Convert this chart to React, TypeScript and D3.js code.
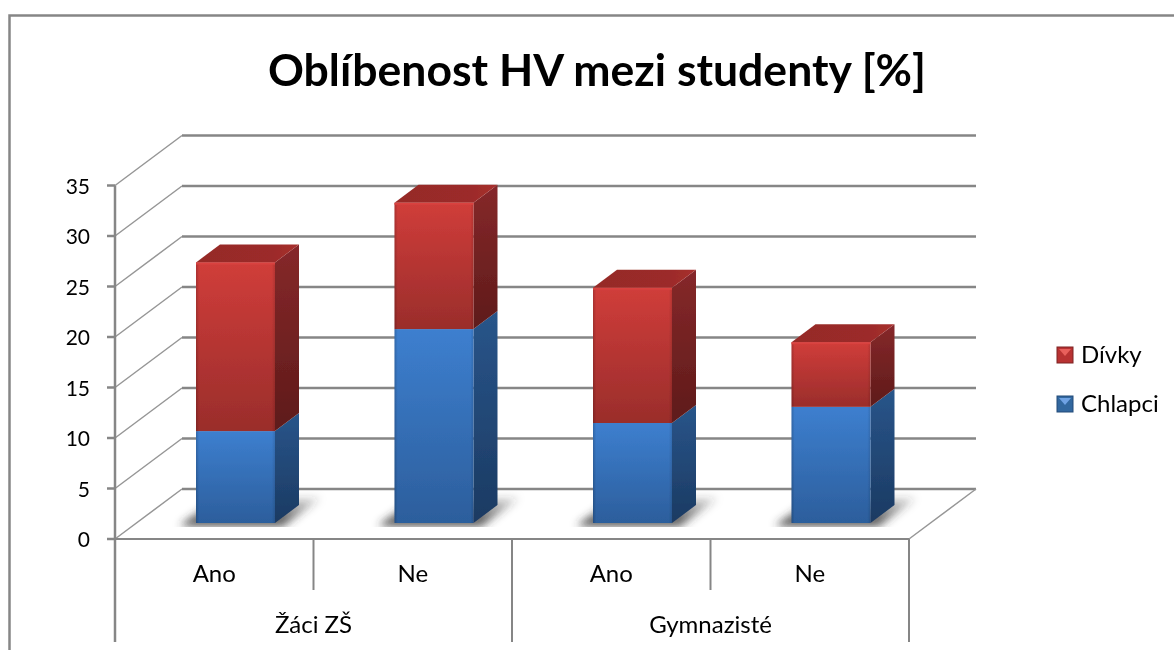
import React from "react";
import * as d3 from "d3";

const categories = ["Ano", "Ne", "Ano", "Ne"];
const groups = ["Žáci ZŠ", "Gymnazisté"];
const chlapci = [9.1, 19.2, 9.9, 11.5];
const divky = [16.7, 12.5, 13.4, 6.4];
const yTicks = [0, 5, 10, 15, 20, 25, 30, 35];
const legendItems = [
  { name: "Dívky", light: "#e8605c", main: "#b83330", dark: "#7d2624" },
  { name: "Chlapci", light: "#6fa3e4", main: "#33689f", dark: "#234a78" },
];

const W = 1174, H = 650;
const FONT = "Lato, 'Open Sans', sans-serif";
const AXIS = "#868686";
const wallDx = 67, wallDy = -50;
const barDx = 24, barDy = -18;

const x = d3.scaleBand<number>().domain(d3.range(4)).range([115, 909]);
const y = d3.scaleLinear().domain([0, 35]).range([539, 185.5]);
// Bars stand part way into the floor, so their own value scale starts higher up.
const yBar = d3.scaleLinear().domain([0, 35]).range([523, 169.5]);
const barW = 79;
const barOffset = 81;

function poly(p: [number, number][]) {
  return d3.line()(p)! + "Z";
}

function Segment({ x0, v0, v1, kind, isTop }: { x0: number; v0: number; v1: number; kind: string; isTop: boolean }) {
  const yb = yBar(v0), yt = yBar(v1), x1 = x0 + barW;
  return (
    <g>
      <path d={poly([[x1, yb], [x1 + barDx, yb + barDy], [x1 + barDx, yt + barDy], [x1, yt]])} fill={`url(#${kind}Side)`} />
      <rect x={x0} y={yt} width={barW} height={yb - yt} fill={`url(#${kind}Front)`} />
      <rect x={x0} y={yt} width={barW} height={yb - yt} fill="url(#edgeShade)" />
      {isTop && (
        <g>
          <path d={poly([[x0, yt], [x0 + barDx, yt + barDy], [x1 + barDx, yt + barDy], [x1, yt]])} fill="url(#redTop)" />
          <line x1={x0} x2={x1} y1={yt + 1} y2={yt + 1} stroke="#d9423f" strokeWidth={2} />
        </g>
      )}
    </g>
  );
}

export default function App() {
  const frontY0 = y(0), left = x.range()[0], right = x.range()[1];
  const stacked = chlapci.map((c, i) => ({ i, c, total: c + divky[i], x0: x(i)! + barOffset }));
  return (
    <svg width={W} height={H} viewBox={`0 0 ${W} ${H}`} style={{ position: "absolute", left: 0, top: 0, display: "block", background: "#fff" }}>
      <defs>
        <linearGradient id="blueFront" x1="0" y1="0" x2="0" y2="1">
          <stop offset="0" stopColor="#3d7fcf" /><stop offset="1" stopColor="#2c5e9c" />
        </linearGradient>
        <linearGradient id="redFront" x1="0" y1="0" x2="0" y2="1">
          <stop offset="0" stopColor="#d03d3a" /><stop offset="1" stopColor="#9a2d2b" />
        </linearGradient>
        <linearGradient id="blueSide" x1="0" y1="0" x2="0" y2="1">
          <stop offset="0" stopColor="#29558a" /><stop offset="1" stopColor="#1b3a62" />
        </linearGradient>
        <linearGradient id="redSide" x1="0" y1="0" x2="0" y2="1">
          <stop offset="0" stopColor="#86282a" /><stop offset="1" stopColor="#5e1b1a" />
        </linearGradient>
        <linearGradient id="redTop" x1="0" y1="0" x2="1" y2="0">
          <stop offset="0" stopColor="#952a28" /><stop offset="0.75" stopColor="#9c2b29" /><stop offset="1" stopColor="#a8302e" />
        </linearGradient>
        <linearGradient id="edgeShade" x1="0" y1="0" x2="1" y2="0">
          <stop offset="0" stopColor="#000" stopOpacity="0.18" /><stop offset="0.04" stopColor="#000" stopOpacity="0" />
          <stop offset="0.96" stopColor="#000" stopOpacity="0" /><stop offset="1" stopColor="#000" stopOpacity="0.12" />
        </linearGradient>
        <linearGradient id="shadowFade" gradientUnits="userSpaceOnUse" x1="0" y1="526" x2="0" y2="498">
          <stop offset="0" stopColor="#333" stopOpacity="0.95" /><stop offset="1" stopColor="#333" stopOpacity="0.15" />
        </linearGradient>
        <filter id="soft" x="-30%" y="-50%" width="160%" height="200%"><feGaussianBlur stdDeviation="4" /></filter>
        <filter id="slight" x="-5%" y="-5%" width="110%" height="110%"><feGaussianBlur stdDeviation="0.5" /></filter>
        <clipPath id="floorClip"><rect x={0} y={490} width={W} height={37} /></clipPath>
      </defs>

      <g filter="url(#slight)">
        <path d={`M9.5,${H}V15.5H${W}`} fill="none" stroke={AXIS} strokeWidth={2.5} />

        <text x={597} y={86} textAnchor="middle" fontFamily={FONT} fontWeight={700} fontSize={44.5} fill="#000">Oblíbenost HV mezi studenty [%]</text>

        {/* back wall and side wall grid */}
        {yTicks.map((t) => (
          <g key={t}>
            <line x1={left} y1={y(t)} x2={left + wallDx} y2={y(t) + wallDy} stroke="#969696" strokeWidth={1.5} />
            <line x1={left + wallDx} y1={y(t) + wallDy} x2={right + wallDx} y2={y(t) + wallDy} stroke={AXIS} strokeWidth={2.5} />
            <line x1={107} y1={y(t)} x2={left} y2={y(t)} stroke={AXIS} strokeWidth={2.5} />
            <text x={90} y={y(t) + 8} textAnchor="end" fontFamily={FONT} fontSize={21} fill="#000">{t}</text>
          </g>
        ))}
        {/* floor */}
        <line x1={right} y1={frontY0} x2={right + wallDx} y2={frontY0 + wallDy} stroke="#969696" strokeWidth={1.5} />
        <line x1={left} y1={frontY0} x2={right} y2={frontY0} stroke={AXIS} strokeWidth={2} />

        {/* shadows */}
        <g clipPath="url(#floorClip)">
          {stacked.map((b) => (
            <path key={b.i} filter="url(#soft)" fill="url(#shadowFade)"
              d={poly([[b.x0 - 16, 526], [b.x0 + barW + 8, 526], [b.x0 + barW + 46, 498], [b.x0 + 20, 498]])} />
          ))}
        </g>

        {/* bars */}
        {stacked.map((b) => (
          <g key={b.i}>
            <Segment x0={b.x0} v0={0} v1={b.c} kind="blue" isTop={false} />
            <Segment x0={b.x0} v0={b.c} v1={b.total} kind="red" isTop={true} />
          </g>
        ))}

        {/* axes */}
        <line x1={left} y1={y(35)} x2={left} y2={642} stroke={AXIS} strokeWidth={2.5} />
        {categories.map((c, i) => (
          <g key={i}>
            <line x1={x(i)! + x.bandwidth()} x2={x(i)! + x.bandwidth()} y1={frontY0} y2={i % 2 === 0 ? 590 : 642} stroke={AXIS} strokeWidth={2} />
            <text x={x(i)! + x.bandwidth() / 2} y={582} textAnchor="middle" fontFamily={FONT} fontSize={24} fill="#000">{c}</text>
          </g>
        ))}
        {groups.map((g, i) => (
          <text key={g} x={x(i * 2)! + x.bandwidth()} y={633} textAnchor="middle" fontFamily={FONT} fontSize={24} fill="#000">{g}</text>
        ))}

        {/* legend */}
        {legendItems.map((l, i) => {
          const ly = 347 + i * 49;
          return (
            <g key={l.name}>
              <rect x={1057} y={ly} width={16} height={16} fill={l.main} stroke={l.dark} strokeWidth={1} />
              <path d={poly([[1059, ly + 2], [1071, ly + 2], [1065, ly + 9]])} fill={l.light} />
              <text x={1081} y={ly + 16} fontFamily={FONT} fontSize={24} fill="#000">{l.name}</text>
            </g>
          );
        })}
      </g>
    </svg>
  );
}
